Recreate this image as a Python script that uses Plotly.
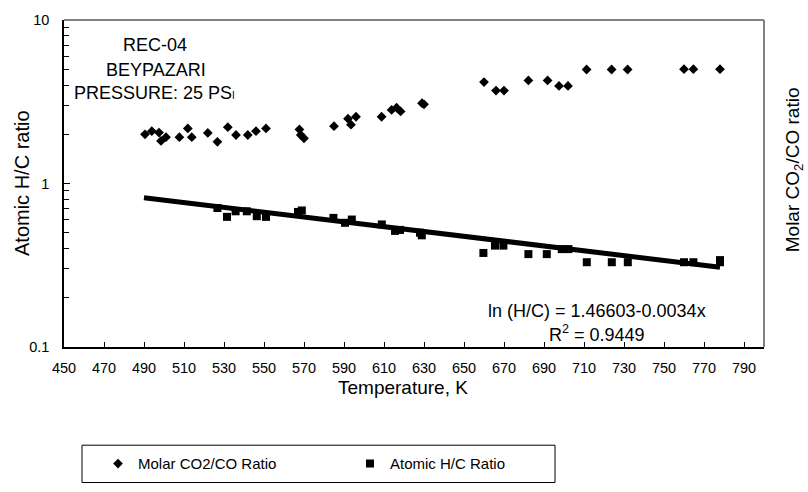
import math
import plotly.graph_objects as go

# ---------------- data ----------------
T_co2 = [490.5, 493.9, 497.5, 498.5, 501.0, 507.7, 511.9, 513.9, 521.9, 526.7,
         531.9, 536.0, 541.9, 546.0, 551.0, 567.7, 568.4, 570.0, 585.0, 592.0,
         593.5, 596.0, 608.8, 613.8, 616.3, 618.3, 629.0, 630.0, 660.0, 666.0,
         670.0, 682.2, 691.8, 697.5, 702.0, 711.3, 723.8, 731.8, 760.0, 764.7, 778.0]
co2_co = [2.00, 2.09, 2.05, 1.82, 1.92, 1.92, 2.17, 1.92, 2.04, 1.80,
          2.21, 1.98, 1.98, 2.09, 2.17, 2.14, 1.98, 1.89, 2.24, 2.49,
          2.29, 2.56, 2.56, 2.82, 2.91, 2.76, 3.10, 3.05, 4.17, 3.70,
          3.70, 4.27, 4.27, 3.95, 3.95, 4.98, 4.98, 4.98, 5.00, 5.00, 5.00]

T_hc = [526.7, 531.5, 535.8, 541.4, 546.4, 551.0, 567.0, 568.9, 584.7, 590.5,
        593.9, 608.9, 615.5, 618.0, 628.0, 628.9, 659.7, 665.5, 669.7, 682.2,
        691.4, 698.9, 702.2, 711.4, 723.9, 731.9, 760.0, 764.7, 778.0, 778.0]
h_c = [0.708, 0.625, 0.676, 0.676, 0.631, 0.625, 0.670, 0.684, 0.616, 0.575,
       0.602, 0.562, 0.513, 0.520, 0.500, 0.482, 0.376, 0.417, 0.417, 0.370,
       0.370, 0.397, 0.397, 0.330, 0.330, 0.330, 0.330, 0.330, 0.330, 0.340]

# trendline ln(H/C) = a + b*T, drawn over the stated temperature span
trend_a = 1.46603
trend_b = -0.0034
trend_T = [490.0, 778.0]

x_ticks = list(range(450, 791, 20))
y_tickvals = [0.1, 1, 10]
y_ticktext = ["0.1", "1", "10"]
y_minor = [0.2, 0.3, 0.4, 0.5, 0.6, 0.7, 0.8, 0.9, 2, 3, 4, 5, 6, 7, 8, 9]

trend_y = [math.exp(trend_a + trend_b * t) for t in trend_T]

FONT = "Liberation Sans, Arial, sans-serif"

fig = go.Figure()
fig.add_trace(go.Scatter(
    x=T_co2, y=co2_co, mode="markers", name="Molar CO2/CO Ratio",
    marker=dict(symbol="diamond", size=7.5, color="black", line=dict(width=0)),
    yaxis="y2"))
fig.add_trace(go.Scatter(
    x=T_hc, y=h_c, mode="markers", name="Atomic H/C Ratio",
    marker=dict(symbol="square", size=8, color="black", line=dict(width=0))))
fig.add_trace(go.Scatter(
    x=trend_T, y=trend_y, mode="lines", showlegend=False,
    line=dict(color="black", width=5)))

W, H = 808, 492
L, R, T, B = 64, 44, 14, 145
pw, ph = W - L - R, H - T - B

def px(xp):
    return (xp - L) / pw

def py(yp):
    return (H - B - yp) / ph

fig.update_layout(
    width=W, height=H,
    margin=dict(l=L, r=R, t=T, b=B, pad=0),
    paper_bgcolor="white", plot_bgcolor="white",
    font=dict(family=FONT, color="black", size=14.5),
    xaxis=dict(
        range=[450, 800], tickvals=x_ticks, ticks="inside", ticklen=5,
        tickwidth=1, tickcolor="black", showline=True, linecolor="black",
        linewidth=1.5, showgrid=False, zeroline=False,
        tickfont=dict(size=14.5), ticklabelstandoff=7),
    yaxis=dict(
        type="log", range=[-1, 1], tickvals=y_tickvals, ticktext=y_ticktext,
        ticks="inside", ticklen=6, tickcolor="black", showline=True,
        linecolor="black", linewidth=1.5, showgrid=False, zeroline=False,
        tickfont=dict(size=14.5), ticklabelstandoff=10,
        minor=dict(tickvals=y_minor, ticks="inside", ticklen=5,
                   tickcolor="black", showgrid=False)),
    yaxis2=dict(
        type="log", range=[-1, 1], overlaying="y", side="right",
        showticklabels=False, ticks="", showline=False, showgrid=False,
        zeroline=False),
    legend=dict(
        orientation="h", x=px(98), xanchor="left", y=py(466), yanchor="middle",
        font=dict(size=15), bgcolor="rgba(0,0,0,0)", borderwidth=0,
        entrywidth=207, entrywidthmode="pixels", itemwidth=30),
    showlegend=True,
)

shapes = [
    dict(type="line", xref="paper", yref="paper", x0=0, x1=1, y0=1, y1=1,
         line=dict(color="#808080", width=2)),
    dict(type="line", xref="paper", yref="paper", x0=1, x1=1, y0=0, y1=1,
         line=dict(color="#808080", width=2)),
    dict(type="rect", xref="paper", yref="paper", x0=px(82), x1=px(555),
         y0=py(485), y1=py(447), line=dict(color="black", width=1)),
]
fig.update_layout(shapes=shapes)

ann = [
    dict(text="REC-04", x=px(155), y=py(39.5), size=18),
    dict(text="BEYPAZARI", x=px(156), y=py(64.5), size=18),
    dict(text="PRESSURE: 25 PS<span style='font-size:10px'>I</span>", x=px(154), y=py(88.5), size=18),
    dict(text="ln (H/C) = 1.46603-0.0034x", x=px(597), y=py(310), size=18),
    dict(text="R<sup>2</sup> = 0.9449", x=px(597), y=py(333), size=18),
    dict(text="Temperature, K", x=px(403), y=py(388), size=19),
]
annotations = []
for a in ann:
    annotations.append(dict(
        text=a["text"], x=a["x"], y=a["y"], xref="paper", yref="paper",
        xanchor="center", yanchor="middle", showarrow=False,
        font=dict(size=a["size"], family=FONT, color="black")))
annotations.append(dict(
    text="Atomic H/C ratio", x=px(22), y=py(180), xref="paper", yref="paper",
    xanchor="center", yanchor="middle", showarrow=False, textangle=-90,
    font=dict(size=20, family=FONT, color="black")))
annotations.append(dict(
    text="Molar CO<sub>2</sub>/CO ratio", x=px(794), y=py(167), xref="paper",
    yref="paper", xanchor="center", yanchor="middle", showarrow=False,
    textangle=-90, font=dict(size=19, family=FONT, color="black")))
fig.update_layout(annotations=annotations)

fig.write_html("out.html")
